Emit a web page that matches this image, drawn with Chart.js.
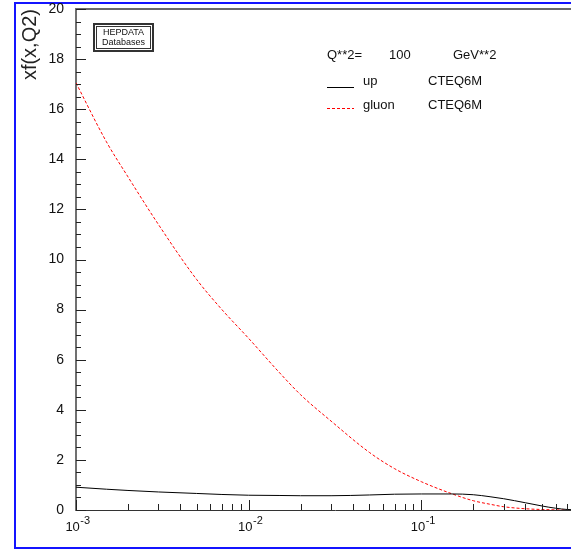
<!DOCTYPE html>
<html>
<head>
<meta charset="utf-8">
<script src="https://cdn.jsdelivr.net/npm/chart.js@4.4.1/dist/chart.umd.min.js"></script>
<style>
  html, body { margin: 0; padding: 0; background: #fff; overflow: hidden; }
  #wrap { position: relative; width: 571px; height: 551px; overflow: hidden; }
  #frame { position: absolute; left: 14px; top: 2px; width: 660px; height: 543px; border: 2px solid #1414ff; }
  canvas { position: absolute; left: 0; top: 0; }
</style>
</head>
<body>
<div id="wrap">
  <div id="frame"></div>
  <canvas id="pdf" width="640" height="551"></canvas>
</div>
<script>
// x grid (log), Q**2 = 100 GeV**2, CTEQ6M
const xValues = [0.001, 0.0015, 0.002, 0.003, 0.005, 0.007, 0.01, 0.015, 0.02, 0.03, 0.05, 0.07,
                 0.1, 0.15, 0.2, 0.25, 0.3, 0.4, 0.5, 0.6, 0.7, 0.8, 1.0];
const upValues = [0.91, 0.83, 0.78, 0.72, 0.66, 0.62, 0.59, 0.58, 0.57, 0.57, 0.60, 0.63,
                  0.64, 0.64, 0.61, 0.53, 0.45, 0.29, 0.16, 0.07, 0.02, 0.004, 0];
const gluonValues = [17.05, 14.7, 13.3, 11.4, 9.2, 8.0, 6.85, 5.5, 4.6, 3.55, 2.3, 1.65,
                     1.13, 0.65, 0.37, 0.23, 0.13, 0.05, 0.02, 0.006, 0.001, 0.0002, 0];

const seriesNames = ["up", "gluon"];
const pdfSetName = "CTEQ6M";
const q2Label = ["Q**2=", "100", "GeV**2"];

const xMajorTicks = [0.001, 0.01, 0.1, 1];
const xMinorSteps = [2, 3, 4, 5, 6, 7, 8, 9];
const xTickLabels = ["10^-3", "10^-2", "10^-1", "10^0"];
const yMin = 0, yMax = 20, yMajorStep = 2, yMinorStep = 0.5;

const FONT = "'Liberation Sans', Arial, sans-serif";

let xTickValues = [];
xMajorTicks.forEach(m => {
  xTickValues.push(m);
  if (m < 1) xMinorSteps.forEach(s => xTickValues.push(+(m * s).toPrecision(3)));
});

function points(ys) {
  return xValues.map((x, i) => ({ x: x, y: ys[i] }));
}

// ticks inside the frame, x labels with exponents, legend block
const hepAxes = {
  id: "hepAxes",
  afterDraw(chart) {
    const { ctx, chartArea: a, scales: { x, y } } = chart;
    ctx.save();

    // top frame line
    ctx.strokeStyle = "#6a6a6a";
    ctx.lineWidth = 2;
    ctx.beginPath();
    ctx.moveTo(a.left, a.top);
    ctx.lineTo(a.right, a.top);
    ctx.stroke();

    // tick marks
    ctx.strokeStyle = "#222";
    ctx.lineWidth = 1;
    ctx.beginPath();
    x.ticks.forEach(t => {
      const px = Math.round(x.getPixelForValue(t.value)) + 0.5;
      const len = xMajorTicks.includes(t.value) ? 10 : 6;
      ctx.moveTo(px, a.bottom);
      ctx.lineTo(px, a.bottom - len);
    });
    for (let v = yMin; v <= yMax; v += yMinorStep) {
      const py = Math.round(y.getPixelForValue(v)) + 0.5;
      const len = v % yMajorStep === 0 ? 10 : 5;
      ctx.moveTo(a.left, py);
      ctx.lineTo(a.left + len, py);
    }
    ctx.stroke();

    // x tick labels 10^n
    ctx.fillStyle = "#111";
    ctx.textBaseline = "alphabetic";
    ctx.textAlign = "left";
    xMajorTicks.forEach((v, i) => {
      const [base, exp] = xTickLabels[i].split("^");
      ctx.font = "13px " + FONT;
      const wb = ctx.measureText(base).width;
      ctx.font = "11px " + FONT;
      const we = ctx.measureText(exp).width;
      const px = x.getPixelForValue(v) + 1.5 - (wb + we) / 2;
      ctx.font = "13px " + FONT;
      ctx.fillText(base, px, 531);
      ctx.font = "11px " + FONT;
      ctx.fillText(exp, px + wb + 0.5, 524);
    });

    // HEPDATA box
    ctx.strokeStyle = "#333";
    ctx.lineWidth = 2;
    ctx.strokeRect(94, 24, 59, 27);
    ctx.lineWidth = 1;
    ctx.strokeRect(96.5, 26.5, 54, 22);
    ctx.fillStyle = "#111";
    ctx.textAlign = "center";
    ctx.font = "9px " + FONT;
    ctx.fillText("HEPDATA", 123.5, 35);
    ctx.fillText("Databases", 123.5, 45);

    // legend
    ctx.textAlign = "left";
    ctx.font = "13px " + FONT;
    ctx.fillText(q2Label[0], 327, 59);
    ctx.fillText(q2Label[1], 389, 59);
    ctx.fillText(q2Label[2], 453, 59);
    const rows = [{ line: 87.5, text: 85 }, { line: 108.5, text: 109 }];
    chart.data.datasets.forEach((ds, i) => {
      ctx.strokeStyle = ds.borderColor;
      ctx.lineWidth = 1;
      ctx.setLineDash(ds.borderDash || []);
      ctx.beginPath();
      ctx.moveTo(327, rows[i].line);
      ctx.lineTo(354, rows[i].line);
      ctx.stroke();
      ctx.setLineDash([]);
      ctx.fillText(seriesNames[i], 363, rows[i].text);
      ctx.fillText(pdfSetName, 428, rows[i].text);
    });

    ctx.restore();
  }
};

new Chart(document.getElementById("pdf"), {
  type: "line",
  data: {
    datasets: [
      {
        label: seriesNames[0],
        data: points(upValues),
        borderColor: "#000000",
        borderWidth: 1,
        pointRadius: 0,
        cubicInterpolationMode: "monotone"
      },
      {
        label: seriesNames[1],
        data: points(gluonValues),
        borderColor: "#ff0000",
        borderWidth: 1,
        borderDash: [3, 2],
        pointRadius: 0,
        cubicInterpolationMode: "monotone"
      }
    ]
  },
  options: {
    responsive: false,
    animation: false,
    devicePixelRatio: 1,
    layout: { padding: { left: 15, top: 9, right: 46, bottom: 0 } },
    plugins: { legend: { display: false }, tooltip: { enabled: false } },
    scales: {
      x: {
        type: "logarithmic",
        min: 0.001,
        max: 1,
        afterBuildTicks: s => { s.ticks = xTickValues.map(v => ({ value: v })); },
        afterFit: s => { s.height = 41; s.paddingLeft = 0; s.paddingRight = 0; },
        ticks: { display: false },
        grid: { display: false, drawTicks: false },
        border: { color: "#333", width: 1 }
      },
      y: {
        min: yMin,
        max: yMax,
        afterFit: s => { s.width = 61; s.paddingTop = 0; s.paddingBottom = 0; },
        ticks: {
          stepSize: yMajorStep,
          padding: 12,
          color: "#111",
          font: { family: FONT, size: 14 }
        },
        grid: { display: false, drawTicks: false },
        border: { color: "#707070", width: 2 },
        title: {
          display: true,
          text: "xf(x,Q2)",
          align: "end",
          color: "#222",
          padding: { top: 3 },
          font: { family: FONT, size: 20 }
        }
      }
    }
  },
  plugins: [hepAxes]
});
</script>
</body>
</html>
